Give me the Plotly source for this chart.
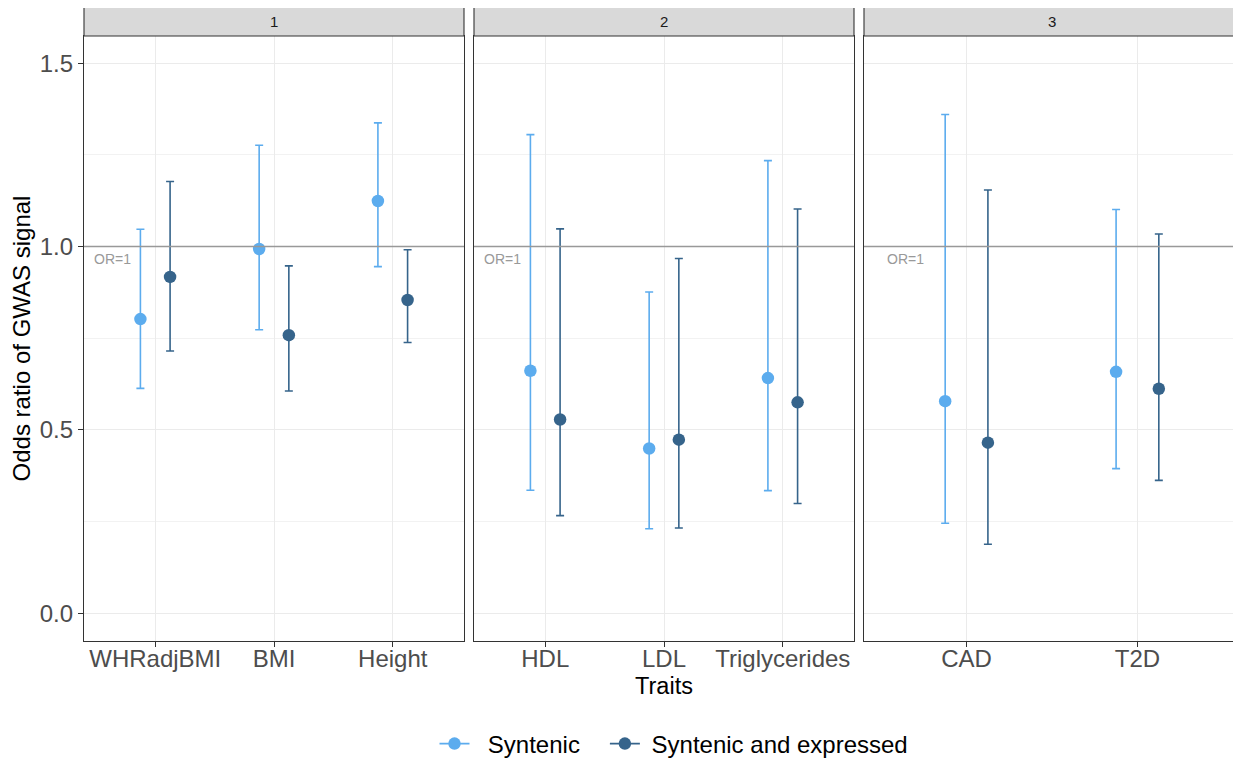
import plotly.graph_objects as go

# ---------------- data ----------------
traits = ["WHRadjBMI", "BMI", "Height", "HDL", "LDL", "Triglycerides", "CAD", "T2D"]
trait_panel = [1, 1, 1, 2, 2, 2, 3, 3]
panel_labels = ["1", "2", "3"]

syn_or = [0.802, 0.993, 1.124, 0.661, 0.449, 0.641, 0.578, 0.658]
syn_lo = [0.613, 0.773, 0.945, 0.335, 0.230, 0.334, 0.245, 0.394]
syn_hi = [1.047, 1.276, 1.337, 1.305, 0.876, 1.234, 1.360, 1.101]

exp_or = [0.917, 0.758, 0.854, 0.528, 0.473, 0.575, 0.465, 0.612]
exp_lo = [0.715, 0.606, 0.738, 0.266, 0.232, 0.299, 0.188, 0.362]
exp_hi = [1.177, 0.947, 0.991, 1.048, 0.967, 1.102, 1.154, 1.034]

series_names = ["Syntenic", "Syntenic and expressed"]
series_colors = ["#5CACEE", "#36648B"]

# ---------------- layout helpers ----------------
OFF = 8  # page body margin of the html page
W, H = 1241 - OFF, 760 - OFF
FONT = "Liberation Sans, Arial, Helvetica, sans-serif"
NB = "\u00a0"


def fx(p):
    return (p - OFF) / W


def fy(p):
    return 1 - (p - OFF) / H


x_domains = [(84, 464), (474, 854), (864, 1240)]
panel_top, panel_bottom, strip_top = 36, 641, 7
y_dom = [fy(panel_bottom), fy(panel_top)]

fig = go.Figure()

series = [(syn_or, syn_lo, syn_hi), (exp_or, exp_lo, exp_hi)]
dodge = [-0.125, 0.125]

for k, plab in enumerate(panel_labels):
    idx = [i for i, p in enumerate(trait_panel) if p == k + 1]
    xa = "x" if k == 0 else f"x{k+1}"
    ya = "y" if k == 0 else f"y{k+1}"
    for s, (orv, lo, hi) in enumerate(series):
        xs = [j + 1 + dodge[s] for j in range(len(idx))]
        ys = [orv[i] for i in idx]
        up = [hi[i] - orv[i] for i in idx]
        dn = [orv[i] - lo[i] for i in idx]
        fig.add_trace(go.Scatter(
            x=xs, y=ys, mode="markers", xaxis=xa, yaxis=ya,
            marker=dict(size=12.5, color=series_colors[s]),
            error_y=dict(type="data", symmetric=False, array=up, arrayminus=dn,
                         color=series_colors[s], thickness=1.6, width=4),
            showlegend=False, name=series_names[s],
        ))

# legend-only traces (padding spaces mimic ggplot's key/label spacing)
legend_labels = [NB * 2 + series_names[0] + NB * 3, NB + series_names[1]]
for s in range(2):
    fig.add_trace(go.Scatter(
        x=[None], y=[None], mode="lines+markers", name=legend_labels[s],
        marker=dict(size=12.5, color=series_colors[s]),
        line=dict(color=series_colors[s], width=1.6),
        showlegend=True,
    ))

layout = dict(
    width=W, height=H, margin=dict(l=0, r=0, t=0, b=0, autoexpand=False),
    paper_bgcolor="white", plot_bgcolor="white",
    font=dict(family=FONT, color="#000000"),
    showlegend=True,
    legend=dict(orientation="h", x=fx(674), xanchor="center", y=fy(744), yanchor="middle",
                font=dict(size=24, color="#000000", family=FONT),
                itemwidth=30, tracegroupgap=0),
)

shapes = []
annotations = []
for k, plab in enumerate(panel_labels):
    idx = [i for i, p in enumerate(trait_panel) if p == k + 1]
    n = len(idx)
    xkey = "xaxis" if k == 0 else f"xaxis{k+1}"
    ykey = "yaxis" if k == 0 else f"yaxis{k+1}"
    xa = "x" if k == 0 else f"x{k+1}"
    ya = "y" if k == 0 else f"y{k+1}"
    layout[xkey] = dict(
        domain=[fx(x_domains[k][0]), fx(x_domains[k][1])], anchor=ya,
        range=[0.4, n + 0.6], tickmode="array",
        tickvals=list(range(1, n + 1)), ticktext=[traits[i] for i in idx],
        showgrid=True, gridcolor="#EBEBEB", gridwidth=1.1,
        zeroline=False, showline=True, mirror=True, linecolor="#333333", linewidth=1.1,
        ticks="outside", ticklen=5, tickcolor="#333333", tickwidth=1.1,
        ticklabelstandoff=-9,
        tickfont=dict(size=24, color="#4D4D4D", family=FONT),
    )
    ycfg = dict(
        domain=y_dom, anchor=xa, range=[-0.076, 1.574],
        tickmode="array", tickvals=[0, 0.5, 1.0, 1.5], ticktext=["0.0", "0.5", "1.0", "1.5"],
        showgrid=True, gridcolor="#EBEBEB", gridwidth=1.1,
        minor=dict(tickmode="array", tickvals=[0.25, 0.75, 1.25], showgrid=True,
                   gridcolor="#F2F2F2", gridwidth=0.6, ticks=""),
        zeroline=False, showline=True, mirror=True, linecolor="#333333", linewidth=1.1,
    )
    if k == 0:
        ycfg.update(ticks="outside", ticklen=5, tickcolor="#333333", tickwidth=1.1,
                    tickfont=dict(size=24, color="#4D4D4D", family=FONT),
                    title=dict(text="Odds ratio of GWAS signal", standoff=6,
                               font=dict(size=24, color="#000000", family=FONT)))
    else:
        ycfg.update(matches="y", showticklabels=False, ticks="")
    layout[ykey] = ycfg
    if k == 1:
        layout[xkey]["title"] = dict(text="Traits", standoff=6,
                                     font=dict(size=23.5, color="#000000", family=FONT))

    # OR = 1 reference line
    shapes.append(dict(type="line", xref=f"{xa} domain", yref=ya, x0=0, x1=1, y0=1, y1=1,
                       line=dict(color="#999999", width=1.4), layer="above"))
    annotations.append(dict(x=0.64, y=0.965, xref=xa, yref=ya, text="OR=1", showarrow=False,
                            font=dict(size=14, color="#999999", family=FONT)))
    # facet strip
    shapes.append(dict(type="rect", xref="paper", yref="paper",
                       x0=fx(x_domains[k][0]), x1=fx(x_domains[k][1]),
                       y0=fy(panel_top), y1=fy(strip_top),
                       fillcolor="#D9D9D9", line=dict(color="#333333", width=1.1)))
    annotations.append(dict(x=(fx(x_domains[k][0]) + fx(x_domains[k][1])) / 2,
                            y=(fy(panel_top) + fy(strip_top)) / 2, xref="paper", yref="paper",
                            xanchor="center", yanchor="middle",
                            text=plab, showarrow=False,
                            font=dict(size=15, color="#1A1A1A", family=FONT)))

layout["shapes"] = shapes
layout["annotations"] = annotations
fig.update_layout(**layout)

fig.write_html("out.html")
